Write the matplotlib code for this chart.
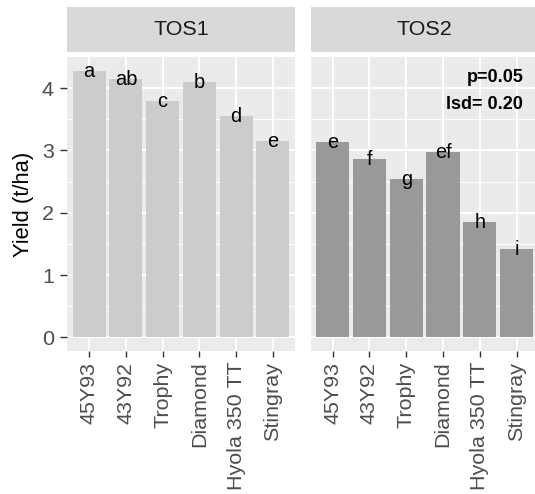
import matplotlib
matplotlib.use("Agg")
import matplotlib.pyplot as plt
from matplotlib.ticker import MultipleLocator

plt.rcParams['font.family'] = ['Liberation Sans', 'DejaVu Sans']

cultivars = ["45Y93", "43Y92", "Trophy", "Diamond", "Hyola 350 TT", "Stingray"]
panels = ["TOS1", "TOS2"]
yield_tos1 = [4.28, 4.15, 3.80, 4.09, 3.56, 3.15]
yield_tos2 = [3.13, 2.86, 2.54, 2.98, 1.85, 1.42]
letters_tos1 = ["a", "ab", "c", "b", "d", "e"]
letters_tos2 = ["e", "f", "g", "ef", "h", "i"]
bar_colors = ["#CCCCCC", "#999999"]
lsd_lines = ["p=0.05", "lsd= 0.20"]
y_ticks = [0, 1, 2, 3, 4]

W, H = 535, 494
DPI = 100
fig = plt.figure(figsize=(W / DPI, H / DPI), dpi=DPI)
fig.patch.set_facecolor("white")

def px2pt(p):
    return p * 72 / DPI

def fx(x):
    return x / W

def fy(y):
    return 1 - y / H

panel_left = [67.0, 310.6]
panel_w = 228.0
panel_top, panel_bot = 57.3, 350.7
strip_top, strip_bot = 7.0, 52.0

all_vals = yield_tos1 + yield_tos2
ymax = max(all_vals)
ylim = (-0.05 * ymax, 1.05 * ymax)

series = [yield_tos1, yield_tos2]
letters = [letters_tos1, letters_tos2]
fs_main = px2pt(21.5)
fs_lab = px2pt(20)

for i, name in enumerate(panels):
    ax = fig.add_axes([fx(panel_left[i]), fy(panel_bot), panel_w / W, (panel_bot - panel_top) / H])
    ax.set_facecolor("#EBEBEB")
    xs = list(range(len(cultivars)))
    ax.bar(xs, series[i], width=0.9, color=bar_colors[i], zorder=3, linewidth=0)
    ax.set_xlim(-0.6, len(cultivars) - 1 + 0.6)
    ax.set_ylim(*ylim)
    ax.yaxis.set_major_locator(MultipleLocator(1))
    ax.yaxis.set_minor_locator(MultipleLocator(0.5))
    ax.set_xticks(xs)
    ax.set_xticklabels(cultivars, rotation=90, fontsize=fs_main, color="#4D4D4D")
    ax.grid(which="major", color="white", linewidth=1.4, zorder=1)
    ax.grid(which="minor", axis="y", color="white", linewidth=0.7, zorder=1)
    ax.set_axisbelow(True)
    for s in ax.spines.values():
        s.set_visible(False)
    ax.tick_params(axis="x", length=px2pt(6), width=1.0, color="#333333", pad=px2pt(5))
    ax.tick_params(which="minor", length=0)
    if i == 0:
        ax.set_yticks(y_ticks)
        ax.set_yticklabels([str(t) for t in y_ticks], fontsize=fs_main, color="#4D4D4D")
        ax.tick_params(axis="y", length=px2pt(7), width=1.0, color="#333333", pad=px2pt(6))
    else:
        ax.tick_params(axis="y", left=False, labelleft=False)
    for x, v, t in zip(xs, series[i], letters[i]):
        ax.annotate(t, (x, v), xytext=(0, -6), textcoords="offset pixels",
                    ha="center", va="baseline", fontsize=fs_lab, color="black", zorder=5)
    if i == 1:
        ax.text(0.933, 0.916, lsd_lines[0], transform=ax.transAxes, ha="right", va="baseline",
                fontsize=px2pt(18), fontweight="bold")
        ax.text(0.933, 0.824, lsd_lines[1], transform=ax.transAxes, ha="right", va="baseline",
                fontsize=px2pt(18), fontweight="bold")
    # strip
    sax = fig.add_axes([fx(panel_left[i]), fy(strip_bot), panel_w / W, (strip_bot - strip_top) / H])
    sax.set_facecolor("#D9D9D9")
    sax.set_xticks([])
    sax.set_yticks([])
    for s in sax.spines.values():
        s.set_visible(False)
    sax.text(0.5, 0.5, name, transform=sax.transAxes, ha="center", va="center",
             fontsize=fs_main, color="#1A1A1A")

fig.text(fx(23), 0.5 * (fy(panel_top) + fy(panel_bot)), "Yield (t/ha)", rotation=90,
         ha="center", va="center", fontsize=px2pt(22), color="black")

fig.savefig("out.png", dpi=DPI)
